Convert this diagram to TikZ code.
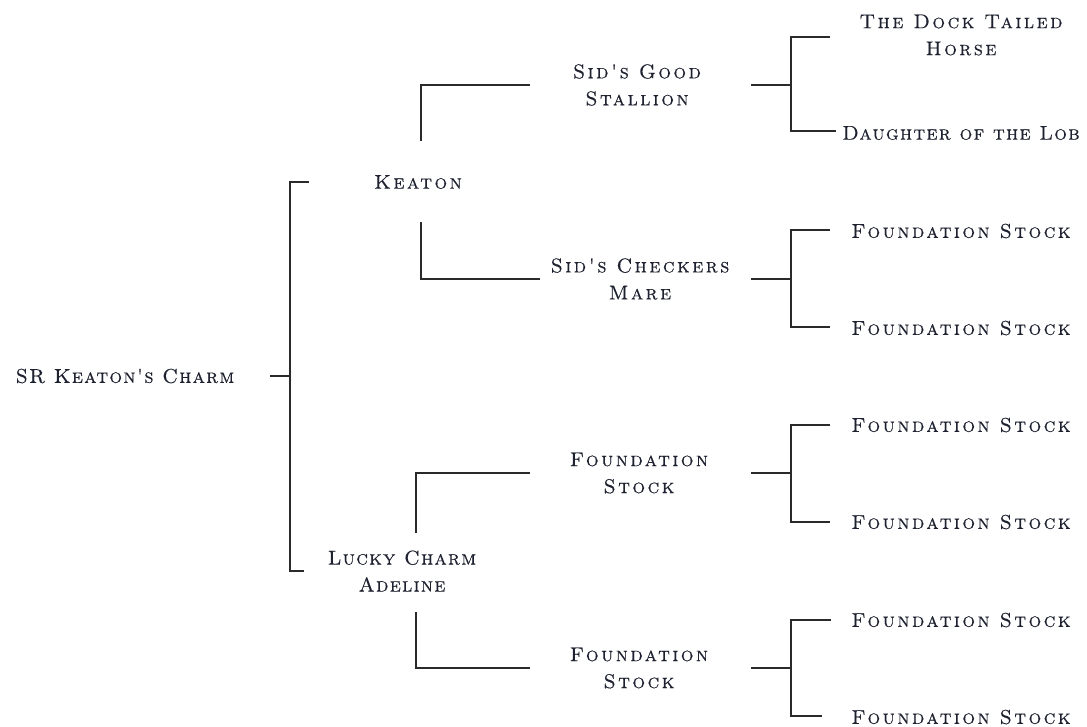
\documentclass[tikz,border=0pt]{standalone}
\usepackage{fontspec}
\newfontfamily\cpfont[LetterSpace=12,FakeBold=0.4]{lmromancaps10-regular.otf}
\newfontfamily\cpfontn[LetterSpace=6,FakeBold=0.4]{lmromancaps10-regular.otf}
\definecolor{ink}{HTML}{1E2230}
\definecolor{wire}{HTML}{2A2A2A}
\begin{document}
\begin{tikzpicture}[x=0.75pt,y=-0.75pt,
  lbl/.style={inner sep=0pt,align=center,text=ink,
    font=\cpfont\fontsize{15}{20.25}\selectfont},
  lbln/.style={lbl,font=\cpfontn\fontsize{15}{20.25}\selectfont},
  link/.style={draw=wire,line width=1.1pt}]
\useasboundingbox (0,0) rectangle (1087,726);
% nodes
\node[lbln] (root) at (125,376) {SR Keaton's Charm};
\node[lbl] (keaton) at (418,182) {Keaton};
\node[lbln] (lucky) at (402,571) {Lucky Charm\\Adeline};
\node[lbl] (sgs) at (637,85) {Sid's Good\\Stallion};
\node[lbl] (scm) at (640,279) {Sid's Checkers\\Mare};
\node[lbl] (fa) at (639,473) {Foundation\\Stock};
\node[lbl] (fb) at (639,668) {Foundation\\Stock};
\node[lbl] (dock) at (961,35) {The Dock Tailed\\Horse};
\node[lbln] (lob) at (961,133) {Daughter of the Lob};
\node[lbl] (f1) at (961,231) {Foundation Stock};
\node[lbl] (f2) at (961,328) {Foundation Stock};
\node[lbl] (f3) at (961,425) {Foundation Stock};
\node[lbl] (f4) at (961,522) {Foundation Stock};
\node[lbl] (f5) at (961,620) {Foundation Stock};
\node[lbl] (f6) at (961,717) {Foundation Stock};
% junction coordinates
\coordinate (r0) at (270,376);
\coordinate (rv) at (290,376);
\coordinate (rt) at (290,182);
\coordinate (rb) at (290,571);
\coordinate (rte) at (309,182);
\coordinate (rbe) at (304,571);
\coordinate (ku) at (421,141);
\coordinate (kuc) at (421,85);
\coordinate (kue) at (530,85);
\coordinate (kd) at (421,222);
\coordinate (kdc) at (421,279);
\coordinate (kde) at (540,279);
\coordinate (lu) at (416,533);
\coordinate (luc) at (416,473);
\coordinate (lue) at (530,473);
\coordinate (ld) at (416,612);
\coordinate (ldc) at (416,668);
\coordinate (lde) at (530,668);
% level 1
\draw[link] (r0) -- (rv);
\draw[link] (rte) -- (rt) -- (rb) -- (rbe);
% level 2
\draw[link] (ku) -- (kuc) -- (kue);
\draw[link] (kd) -- (kdc) -- (kde);
\draw[link] (lu) -- (luc) -- (lue);
\draw[link] (ld) -- (ldc) -- (lde);
% level 3 brackets
\foreach \n/\y/\t/\b/\te/\be in {a/85/37/131/830/836, b/279/230/327/830/830, c/473/425/522/830/830, d/668/620/716/831/822}{
  \coordinate (s\n) at (751,\y);
  \coordinate (j\n) at (791,\y);
  \coordinate (t\n) at (791,\t);
  \coordinate (b\n) at (791,\b);
  \coordinate (te\n) at (\te,\t);
  \coordinate (be\n) at (\be,\b);
  \draw[link] (s\n) -- (j\n);
  \draw[link] (te\n) -- (t\n) -- (b\n) -- (be\n);
}
\end{tikzpicture}
\end{document}
